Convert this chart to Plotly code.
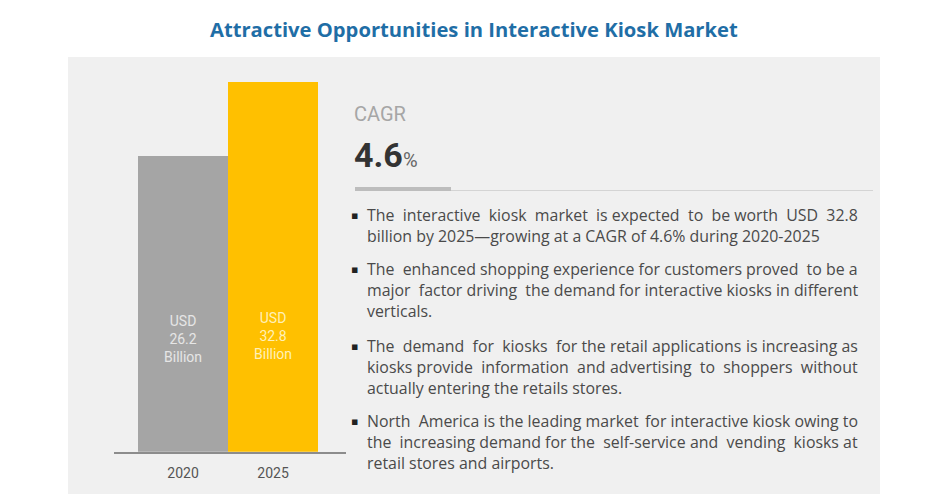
import plotly.graph_objects as go

W, H = 938, 494
PAGE_MARGIN = 8  # the body margin of the written page

years = ["2020", "2025"]
values = [26.2, 32.8]
bar_colors = ["#A5A5A5", "#FFC000"]
label_colors = ["#E6E6E6", "#FFF0B8"]

title = "Attractive Opportunities in Interactive Kiosk Market"
cagr_label = "CAGR"
cagr_value = "4.6"

# a "|" marks a justified line: left part starts at the text edge, right part ends at the right edge
bullets = [
    ["The  interactive  kiosk  market  is expected|to  be worth  USD  32.8",
     "billion by 2025—growing at a CAGR of 4.6% during 2020-2025"],
    ["The  enhanced shopping experience for customers|proved  to be a",
     "major  factor driving  the demand|for interactive kiosks in different",
     "verticals."],
    ["The  demand  for  kiosks  for the retail applications|is increasing as",
     "kiosks provide  information  and|advertising  to  shoppers  without",
     "actually entering the retails stores."],
    ["North  America is the leading market|for interactive kiosk owing to",
     "the  increasing demand for the  self-service|and  vending  kiosks at",
     "retail stores and airports."],
]
bullet_tops = [215, 269, 346, 421]
LINE_H = 21.1
TEXT_L, TEXT_R = 365, 860
TEXT_SIZE = 15.9
TEXT_COLOR = "#4A4A4A"


def px(x):
    return (x - PAGE_MARGIN) / (W - PAGE_MARGIN)


def py(y):
    return 1 - (y - PAGE_MARGIN) / (H - PAGE_MARGIN)


def note(x, y, text, size, color, family="Open Sans", anchor="left"):
    return dict(xref="paper", yref="paper", x=px(x), y=py(y), text=text, showarrow=False,
                xanchor=anchor, yanchor="middle", align=anchor,
                font=dict(family=family, size=size, color=color))


fig = go.Figure(go.Bar(x=years, y=values, width=1, marker=dict(color=bar_colors, line_width=0),
                       hoverinfo="skip", showlegend=False))

annots = [
    note(474, 29, f"<b>{title}</b>", 20.2, "#1F6EA6", anchor="center"),
    note(352, 114, cagr_label, 20, "#A6A6A6", family="Roboto"),
    note(352, 155, f"<b>{cagr_value}</b><span style='font-size:20px;color:#666666'>%</span>", 34, "#333333",
         family="Roboto"),
]
for i, v in enumerate(values):
    # on a category axis a numeric looking x is read as the category index
    annots.append(dict(xref="x", yref="paper", x=i, y=py(339 - 3 * i),
                       text=f"USD<br>{v}<br>Billion", showarrow=False, yanchor="middle",
                       font=dict(family="Roboto", size=14, color=label_colors[i])))
for lines, top in zip(bullets, bullet_tops):
    annots.append(note(349, top, "▪", 11, "#222222", family="DejaVu Sans"))
    for j, line in enumerate(lines):
        y = top + j * LINE_H
        if "|" in line:
            left, right = line.split("|")
            annots.append(note(TEXT_L, y, left, TEXT_SIZE, TEXT_COLOR))
            annots.append(note(TEXT_R, y, right, TEXT_SIZE, TEXT_COLOR, anchor="right"))
        else:
            annots.append(note(TEXT_L, y, line, TEXT_SIZE, TEXT_COLOR))

shapes = [
    dict(type="rect", xref="paper", yref="paper", x0=px(68), x1=px(880), y0=py(57), y1=py(494),
         fillcolor="#F0F0F0", line_width=0, layer="below"),
    dict(type="line", xref="paper", yref="paper", x0=px(355), x1=px(873), y0=py(190.5), y1=py(190.5),
         line=dict(color="#D4D4D4", width=1)),
    dict(type="rect", xref="paper", yref="paper", x0=px(355), x1=px(451), y0=py(187), y1=py(191),
         fillcolor="#BDBDBD", line_width=0),
]

fig.update_layout(
    width=W - PAGE_MARGIN, height=H - PAGE_MARGIN, margin=dict(l=0, r=0, t=0, b=0),
    paper_bgcolor="white", plot_bgcolor="rgba(0,0,0,0)",
    bargap=0, annotations=annots, shapes=shapes,
    xaxis=dict(domain=[px(114), px(346)], type="category", range=[-0.767, 1.811],
               showline=True, linecolor="#8C8C8C", linewidth=1.5, showgrid=False, zeroline=False,
               ticks="", ticklabelstandoff=8,
               tickfont=dict(family="Roboto", size=14, color="#555555")),
    yaxis=dict(domain=[py(451.7), py(82)], range=[0, 32.8], visible=False),
)

fig.write_html("out.html")
